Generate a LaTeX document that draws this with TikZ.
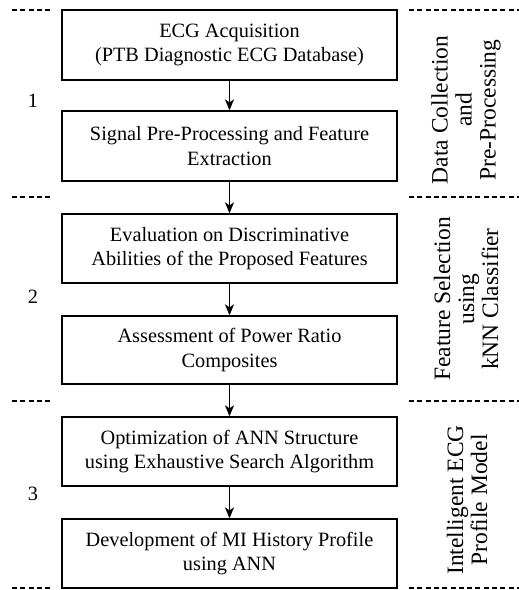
\documentclass[tikz,border=0pt]{standalone}
\usepackage{fontspec}
\setmainfont{Liberation Serif}
\usetikzlibrary{arrows.meta}
\begin{document}
\begin{tikzpicture}[x=1pt,y=-1pt,
  stagebox/.style={draw, line width=1.3pt, minimum width=335pt, minimum height=70pt, align=center, inner sep=2pt, font=\fontsize{20.3}{24.5}\selectfont},
  flow/.style={-{Stealth[length=11pt,width=9pt,inset=3pt]}, line width=1.3pt},
  sep/.style={dash pattern=on 5pt off 3.3pt, line width=1.1pt},
  sidelabel/.style={rotate=90, align=center, font=\fontsize{23.5}{24}\selectfont},
  numlabel/.style={font=\fontsize{20.3}{24}\selectfont}]
\useasboundingbox (0,0) rectangle (519,590);
% boxes
\node[stagebox] (b1) at (229.5,45) {ECG Acquisition\\(PTB Diagnostic ECG Database)};
\node[stagebox] (b2) at (229.5,146) {Signal Pre-Processing and Feature\\Extraction};
\node[stagebox, minimum height=69pt] (b3) at (229.5,248.5) {Evaluation on Discriminative\\Abilities of the Proposed Features};
\node[stagebox, minimum height=68pt] (b4) at (229.5,350) {Assessment of Power Ratio\\Composites};
\node[stagebox, minimum height=69pt] (b5) at (229.5,451.5) {Optimization of ANN Structure\\using Exhaustive Search Algorithm};
\node[stagebox, minimum height=69pt] (b6) at (229.5,553.5) {Development of MI History Profile\\using ANN};
% arrows
\draw[flow] (b1) -- (b2);
\draw[flow] (b2) -- (b3);
\draw[flow] (b3) -- (b4);
\draw[flow] (b4) -- (b5);
\draw[flow] (b5) -- (b6);
% separators
\coordinate (l1a) at (12,10); \coordinate (l1b) at (52,10);
\coordinate (r1a) at (409,10); \coordinate (r1b) at (519,10);
\coordinate (l2a) at (12,197); \coordinate (l2b) at (52,197);
\coordinate (r2a) at (409,197); \coordinate (r2b) at (519,197);
\coordinate (l3a) at (12,401); \coordinate (l3b) at (52,401);
\coordinate (r3a) at (409,401); \coordinate (r3b) at (519,401);
\coordinate (l4a) at (12,588); \coordinate (l4b) at (52,588);
\coordinate (r4a) at (409,588); \coordinate (r4b) at (519,588);
\draw[sep] (l1a) -- (l1b); \draw[sep] (r1a) -- (r1b);
\draw[sep] (l2a) -- (l2b); \draw[sep] (r2a) -- (r2b);
\draw[sep] (l3a) -- (l3b); \draw[sep] (r3a) -- (r3b);
\draw[sep] (l4a) -- (l4b); \draw[sep] (r4a) -- (r4b);
% numbers
\node[numlabel] (n1) at (33,101) {1};
\node[numlabel] (n2) at (33,297) {2};
\node[numlabel] (n3) at (33,494) {3};
% side labels
\node[sidelabel] (s1) at (466,110) {Data Collection\\and\\Pre-Processing};
\node[sidelabel] (s2) at (466,299) {Feature Selection\\using\\kNN Classifier};
\node[sidelabel] (s3) at (467,500) {Intelligent ECG\\Profile Model};
\end{tikzpicture}
\end{document}
